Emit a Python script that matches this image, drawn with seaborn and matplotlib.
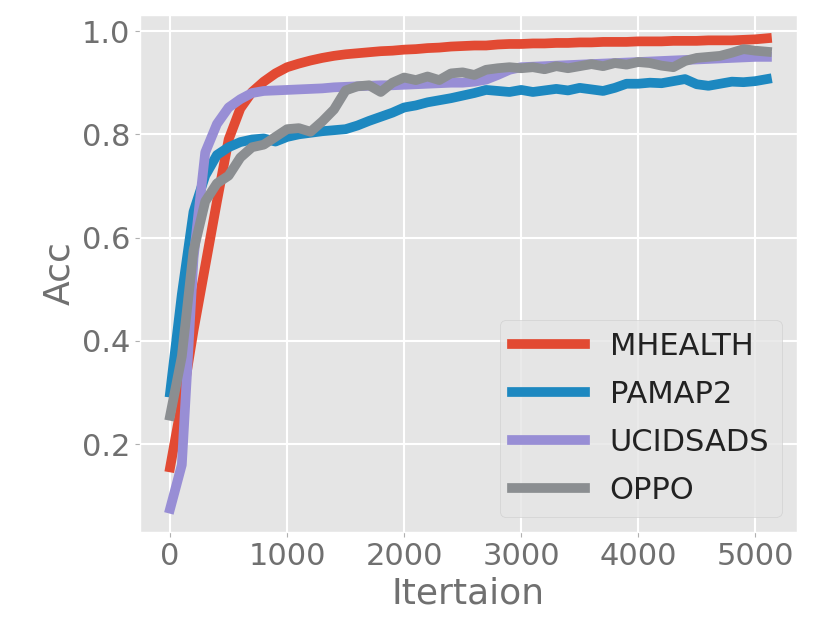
import numpy as np
import pandas as pd
import matplotlib
matplotlib.use("Agg")
import matplotlib.pyplot as plt
import seaborn as sns

# iterations, sampled every 100
iters = list(range(0, 5101, 100))

mhealth = [0.155, 0.28, 0.42, 0.545, 0.67, 0.79, 0.85, 0.882, 0.902, 0.918,
           0.93, 0.937, 0.943, 0.948, 0.952, 0.955, 0.957, 0.959, 0.961, 0.962,
           0.964, 0.965, 0.967, 0.968, 0.97, 0.971, 0.972, 0.972, 0.974, 0.975,
           0.975, 0.976, 0.976, 0.977, 0.977, 0.978, 0.978, 0.979, 0.979, 0.979,
           0.98, 0.98, 0.98, 0.981, 0.981, 0.981, 0.982, 0.982, 0.982, 0.983,
           0.984, 0.986]

pamap2 = [0.30, 0.49, 0.65, 0.72, 0.76, 0.775, 0.785, 0.79, 0.792, 0.786,
          0.795, 0.80, 0.803, 0.806, 0.808, 0.81, 0.817, 0.826, 0.834, 0.842,
          0.852, 0.856, 0.862, 0.866, 0.87, 0.875, 0.88, 0.886, 0.884, 0.882,
          0.886, 0.882, 0.885, 0.888, 0.885, 0.89, 0.887, 0.884, 0.89, 0.898,
          0.898, 0.90, 0.899, 0.903, 0.907, 0.897, 0.894, 0.898, 0.902, 0.901,
          0.903, 0.907]

ucidsads = [0.075, 0.16, 0.56, 0.765, 0.82, 0.852, 0.868, 0.88, 0.884, 0.885,
            0.886, 0.887, 0.888, 0.889, 0.891, 0.892, 0.893, 0.894, 0.895, 0.895,
            0.896, 0.897, 0.898, 0.899, 0.90, 0.90, 0.902, 0.906, 0.915, 0.925,
            0.93, 0.931, 0.932, 0.933, 0.934, 0.935, 0.936, 0.937, 0.938, 0.939,
            0.94, 0.941, 0.942, 0.943, 0.944, 0.945, 0.946, 0.947, 0.948, 0.949,
            0.95, 0.95]

oppo = [0.255, 0.37, 0.575, 0.67, 0.705, 0.72, 0.755, 0.775, 0.78, 0.795,
        0.81, 0.812, 0.805, 0.825, 0.848, 0.885, 0.893, 0.895, 0.882, 0.90,
        0.91, 0.905, 0.912, 0.905, 0.918, 0.92, 0.915, 0.925, 0.928, 0.93,
        0.928, 0.93, 0.926, 0.932, 0.928, 0.932, 0.936, 0.932, 0.938, 0.935,
        0.94, 0.938, 0.933, 0.93, 0.942, 0.948, 0.95, 0.952, 0.958, 0.965,
        0.962, 0.96]

names = ["MHEALTH", "PAMAP2", "UCIDSADS", "OPPO"]
colors = ["#E24A33", "#1D88C0", "#988ED5", "#8B8E91"]

df = pd.concat([
    pd.DataFrame({"Itertaion": iters, "Acc": vals, "dataset": name})
    for name, vals in zip(names, [mhealth, pamap2, ucidsads, oppo])
])

plt.style.use("ggplot")
fig, ax = plt.subplots(figsize=(8.3, 6.42), dpi=100)
sns.lineplot(data=df, x="Itertaion", y="Acc", hue="dataset", hue_order=names,
             palette=colors, linewidth=7, ax=ax)

ax.set_xlabel("Itertaion", fontsize=26, color="#707070")
ax.set_ylabel("Acc", fontsize=26, color="#707070")
ax.tick_params(labelsize=22, labelcolor="#707070", color="#b0b0b0")
ax.set_xticks([0, 1000, 2000, 3000, 4000, 5000])
ax.set_yticks([0.2, 0.4, 0.6, 0.8, 1.0])
ax.grid(color="white", linewidth=1.5)

leg = ax.legend(loc="lower right", fontsize=22, handlelength=2.4,
                labelspacing=0.62)
for line in leg.get_lines():
    line.set_linewidth(7)
for t in leg.get_texts():
    t.set_color("#222222")

plt.subplots_adjust(left=0.169, right=0.96, top=0.977, bottom=0.171)
fig.savefig("out.png", dpi=100)
